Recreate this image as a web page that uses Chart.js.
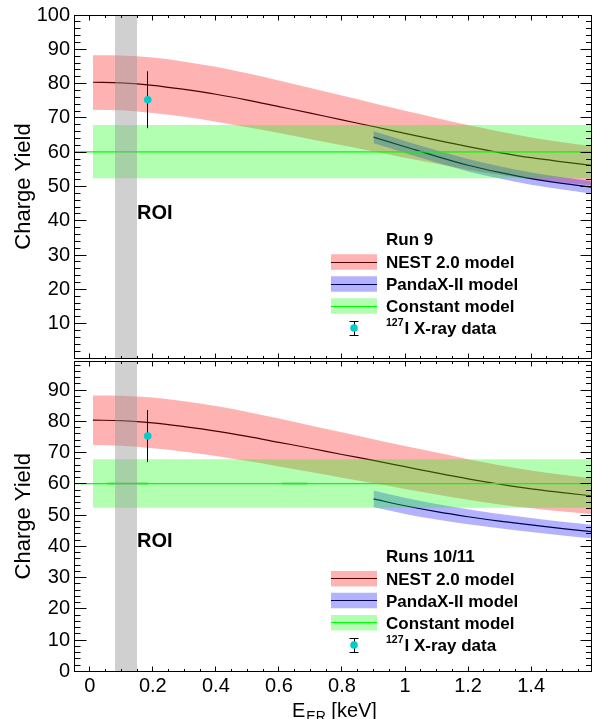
<!DOCTYPE html>
<html>
<head>
<meta charset="utf-8">
<script src="https://cdn.jsdelivr.net/npm/chart.js@4.4.1/dist/chart.umd.min.js"></script>
<style>
  html, body { margin: 0; padding: 0; background: #fff; overflow: hidden; }
  #wrap { position: relative; width: 595px; height: 719px; }
  canvas { position: absolute; left: 0; }
  #top { top: 0; }
  #bot { top: 357px; }
</style>
</head>
<body>
<div id="wrap">
  <canvas id="top" width="595" height="362"></canvas>
  <canvas id="bot" width="595" height="362"></canvas>
</div>
<script>
// ---- values ----
const xMin = -0.05, xMax = 1.59;
const xTickVals = [0, 0.2, 0.4, 0.6, 0.8, 1, 1.2, 1.4];
const yTickValsRun9 = [10, 20, 30, 40, 50, 60, 70, 80, 90, 100];
const yTickValsRun1011 = [0, 10, 20, 30, 40, 50, 60, 70, 80, 90];

// NEST 2.0 model (same in both panels)
const nestX   = [0.01, 0.1, 0.2, 0.3, 0.4, 0.5, 0.6, 0.7, 0.8, 0.9, 1.0, 1.1, 1.2, 1.3, 1.4, 1.5, 1.59];
const nestMid = [80.4, 80.2, 79.5, 78.3, 76.9, 75.2, 73.3, 71.4, 69.4, 67.5, 65.5, 63.5, 61.6, 59.9, 58.4, 57.2, 56.2];
const nestHi  = [88.3, 88.2, 87.6, 86.4, 84.9, 83.0, 80.9, 78.7, 76.5, 74.3, 72.1, 70.0, 67.9, 66.0, 64.3, 62.9, 61.8];
const nestLo  = [72.4, 72.2, 71.4, 70.3, 68.9, 67.3, 65.6, 63.8, 62.0, 60.2, 58.4, 56.6, 54.9, 53.4, 52.2, 51.2, 50.4];

// PandaX-II model
const pandaX = [0.9, 1.0, 1.1, 1.2, 1.3, 1.4, 1.5, 1.59];
const pandaMidRun9 = [64.4, 61.6, 58.8, 56.2, 54.1, 52.3, 50.9, 49.8];
const pandaHiRun9  = [66.1, 63.3, 60.6, 58.0, 55.9, 54.1, 52.7, 51.6];
const pandaLoRun9  = [62.6, 59.8, 57.0, 54.4, 52.3, 50.5, 49.1, 47.9];
const pandaMidRun1011 = [55.2, 53.0, 51.1, 49.5, 48.1, 46.9, 45.7, 44.7];
const pandaHiRun1011  = [57.9, 55.6, 53.6, 51.9, 50.4, 49.1, 47.9, 46.9];
const pandaLoRun1011  = [52.5, 50.4, 48.6, 47.1, 45.8, 44.6, 43.5, 42.6];

// Constant model
const constBandX = [0.01, 1.59];
const constLineX = [-0.05, 1.59];
const constMid = 60.1, constHi = 67.9, constLo = 52.4;
const constDarkSegsRun1011 = [[0.055, 0.185], [0.61, 0.69]];

// 127I X-ray data point
const xrayX = [0.184];
const xrayY = [75.3];
const xrayErr = [8.3];

// region of interest
const roiX = [0.08, 0.15];

// ---- styling ----
const FONT = "'Liberation Sans', Arial, Helvetica, sans-serif";
const RED_BAND = 'rgba(255,0,0,0.3)';
const BLUE_BAND = 'rgba(0,0,255,0.3)';
const GREEN_BAND = 'rgba(0,255,0,0.3)';
const ROI_GREY = 'rgba(150,150,150,0.45)';
const CYAN = '#00cccc';

function pts(xs, ys) { return xs.map((x, i) => ({x: x, y: ys[i]})); }
function flat(xs, v) { return xs.map(x => ({x: x, y: v})); }

function buildDatasets(p) {
    let dark = [];
    p.darkSegs.forEach(s => {
        dark.push({x: s[0], y: constMid}, {x: s[1], y: constMid}, {x: s[1], y: null});
    });
    // first dataset is drawn on top, last one at the bottom
    return [
        {data: pts(xrayX, xrayY), showLine: false, pointRadius: 3.8, pointBackgroundColor: CYAN,
         pointBorderWidth: 0, borderWidth: 0},
        {data: flat(roiX, 100), borderWidth: 0, pointRadius: 0, fill: 'origin', backgroundColor: ROI_GREY},
        {data: flat(constLineX, constMid), borderColor: '#00ff00', borderWidth: 1.3, pointRadius: 0, fill: false},
        {data: dark, borderColor: '#00c000', borderWidth: 1.4, pointRadius: 0, fill: false, spanGaps: false},
        {data: flat(constBandX, constHi), borderWidth: 0, pointRadius: 0, fill: '+1', backgroundColor: GREEN_BAND},
        {data: flat(constBandX, constLo), borderWidth: 0, pointRadius: 0, fill: false},
        {data: pts(pandaX, p.pandaHi), borderWidth: 0, pointRadius: 0, fill: '+1', backgroundColor: BLUE_BAND},
        {data: pts(pandaX, p.pandaLo), borderWidth: 0, pointRadius: 0, fill: false},
        {data: pts(pandaX, p.pandaMid), borderColor: '#000', borderWidth: 1.2, pointRadius: 0, fill: false},
        {data: pts(nestX, nestHi), borderWidth: 0, pointRadius: 0, fill: '+1', backgroundColor: RED_BAND},
        {data: pts(nestX, nestLo), borderWidth: 0, pointRadius: 0, fill: false},
        {data: pts(nestX, nestMid), borderColor: '#000', borderWidth: 1.2, pointRadius: 0, fill: false}
    ];
}

function px(v) { return Math.floor(v) + 0.5; }

function makeRootPlugin(p) {
    return {
        id: 'rootStyle',
        beforeDatasetDraw(chart, args) {
            if (args.index !== 0) return;
            // error bars under the markers
            let ctx = chart.ctx, x = chart.scales.x, y = chart.scales.y;
            ctx.save();
            ctx.strokeStyle = '#000';
            ctx.lineWidth = 1;
            ctx.beginPath();
            for (let i = 0; i < xrayX.length; i++) {
                let xp = px(x.getPixelForValue(xrayX[i]));
                ctx.moveTo(xp, y.getPixelForValue(xrayY[i] + xrayErr[i]));
                ctx.lineTo(xp, y.getPixelForValue(xrayY[i] - xrayErr[i]));
            }
            ctx.stroke();
            ctx.restore();
        },
        afterDraw(chart) {
            let ctx = chart.ctx, a = chart.chartArea, x = chart.scales.x, y = chart.scales.y;
            let L = px(a.left), R = px(a.right), T = px(a.top), B = px(a.bottom);
            ctx.save();
            ctx.strokeStyle = '#000';
            ctx.lineWidth = 1;
            ctx.strokeRect(L, T, R - L, B - T);

            // inward ticks, ROOT style
            ctx.beginPath();
            for (let k = 0; k * 2 <= y.max; k++) {
                let v = k * 2;
                let yp = px(y.getPixelForValue(v));
                let major = v % 10 === 0;
                ctx.moveTo(L, yp); ctx.lineTo(L + (major ? 12 : 6), yp);
                ctx.moveTo(R, yp); ctx.lineTo(R - (major ? 11 : 5.5), yp);
            }
            for (let k = -1; k * 0.05 <= xMax; k++) {
                let xp = px(x.getPixelForValue(k * 0.05));
                let len = k % 4 === 0 ? 5 : 2.5;
                ctx.moveTo(xp, B); ctx.lineTo(xp, B - len);
                ctx.moveTo(xp, T); ctx.lineTo(xp, T + len);
            }
            ctx.stroke();

            // ROI label
            ctx.fillStyle = '#000';
            ctx.font = 'bold 20px ' + FONT;
            ctx.textAlign = 'left';
            ctx.textBaseline = 'middle';
            ctx.fillText('ROI', x.getPixelForValue(roiX[1]), y.getPixelForValue(p.roiLabelY));

            // legend
            let r = p.rowY, sx = 331, sw = 46, sh = 15.5, tx = 386;
            ctx.textBaseline = 'alphabetic';
            ctx.font = 'bold 17px ' + FONT;
            ctx.fillText(p.legendTitle, tx, r[0] + 6);
            let bands = [
                {band: RED_BAND, line: '#000', text: 'NEST 2.0 model'},
                {band: BLUE_BAND, line: '#000', text: 'PandaX-II model'},
                {band: GREEN_BAND, line: '#00ff00', text: 'Constant model'}
            ];
            bands.forEach((b, i) => {
                let cy = r[i + 1];
                ctx.strokeStyle = b.line;
                ctx.beginPath();
                ctx.moveTo(sx, px(cy)); ctx.lineTo(sx + sw, px(cy));
                ctx.stroke();
                ctx.fillStyle = b.band;
                ctx.fillRect(sx, cy - sh / 2, sw, sh);
                ctx.fillStyle = '#000';
                ctx.fillText(b.text, tx, cy + 6);
            });
            let cy = r[4], mx = sx + sw / 2;
            ctx.strokeStyle = '#000';
            ctx.beginPath();
            ctx.moveTo(px(mx), cy - 7); ctx.lineTo(px(mx), cy + 7);
            ctx.moveTo(mx - 4.5, px(cy - 7)); ctx.lineTo(mx + 4.5, px(cy - 7));
            ctx.moveTo(mx - 4.5, px(cy + 7)); ctx.lineTo(mx + 4.5, px(cy + 7));
            ctx.stroke();
            ctx.fillStyle = CYAN;
            ctx.beginPath();
            ctx.arc(mx, cy, 3.8, 0, Math.PI * 2);
            ctx.fill();
            ctx.fillStyle = '#000';
            ctx.font = 'bold 10.5px ' + FONT;
            ctx.fillText('127', tx, cy - 2.5);
            let w = ctx.measureText('127').width;
            ctx.font = 'bold 17px ' + FONT;
            ctx.fillText('I X-ray data', tx + w + 1, cy + 6);

            // x axis title with subscript
            if (p.xTitle) {
                let bx = 292, by = 360;
                ctx.font = '20px ' + FONT;
                ctx.fillText('E', bx, by);
                bx += ctx.measureText('E').width;
                ctx.font = '14px ' + FONT;
                ctx.fillText('ER', bx + 1, by + 4);
                bx += ctx.measureText('ER').width + 1;
                ctx.font = '20px ' + FONT;
                ctx.fillText(' [keV]', bx, by);
            }
            ctx.restore();
        }
    };
}

function makePanel(id, p) {
    return new Chart(document.getElementById(id), {
        type: 'line',
        data: {datasets: buildDatasets(p)},
        options: {
            responsive: false,
            animation: false,
            events: [],
            layout: {padding: p.padding},
            elements: {line: {cubicInterpolationMode: 'monotone'}},
            scales: {
                x: {
                    type: 'linear', min: xMin, max: xMax, display: p.xTitle,
                    grid: {display: false, drawTicks: false},
                    border: {display: false},
                    afterBuildTicks: s => { s.ticks = xTickVals.map(v => ({value: v})); },
                    afterFit: s => { s.height = p.xTitle ? 47.5 : 0; },
                    ticks: {color: '#000', font: {family: FONT, size: 20}, padding: 2.5,
                            maxRotation: 0, autoSkip: false, callback: v => String(v)}
                },
                y: {
                    type: 'linear', min: 0, max: p.yMax,
                    grid: {display: false, drawTicks: false},
                    border: {display: false},
                    afterBuildTicks: s => { s.ticks = p.yTicks.map(v => ({value: v})); },
                    afterFit: s => { s.width = 74; s.paddingTop = 0; s.paddingBottom = 0; },
                    ticks: {color: '#000', font: {family: FONT, size: 20}, padding: 4, autoSkip: false},
                    title: {display: true, text: 'Charge Yield', color: '#000',
                            font: {family: FONT, size: 22}, padding: {top: 11, bottom: 0}}
                }
            },
            plugins: {legend: {display: false}, tooltip: {enabled: false}}
        },
        plugins: [makeRootPlugin(p)]
    });
}

makePanel('top', {
    yMax: 100, yTicks: yTickValsRun9,
    pandaMid: pandaMidRun9, pandaHi: pandaHiRun9, pandaLo: pandaLoRun9,
    darkSegs: [],
    padding: {top: 15, bottom: 3, left: 0, right: 1.5},
    roiLabelY: 42, legendTitle: 'Run 9',
    rowY: [238.5, 262, 284, 306, 328],
    xTitle: false
});

makePanel('bot', {
    yMax: 99.3, yTicks: yTickValsRun1011,
    pandaMid: pandaMidRun1011, pandaHi: pandaHiRun1011, pandaLo: pandaLoRun1011,
    darkSegs: constDarkSegsRun1011,
    padding: {top: 1.5, bottom: 0, left: 0, right: 1.5},
    roiLabelY: 41.5, legendTitle: 'Runs 10/11',
    rowY: [198.5, 221.7, 243.5, 265.7, 288],
    xTitle: true
});
</script>
</body>
</html>
